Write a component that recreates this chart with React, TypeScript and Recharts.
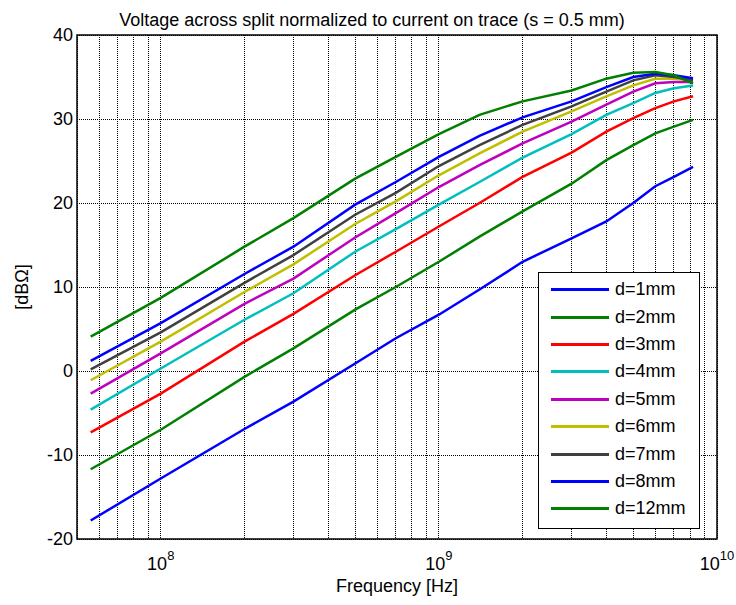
import React from 'react';
import { LineChart, Line, XAxis, YAxis, CartesianGrid, Legend, ReferenceArea } from 'recharts';

const freqs = [5.6e7, 1e8, 2e8, 3e8, 5e8, 7e8, 1e9, 1.4e9, 2e9, 3e9, 4e9, 5e9, 6e9, 7e9, 8.2e9];

const d1 = [-17.8, -12.8, -6.9, -3.65, 0.9, 3.9, 6.7, 9.7, 13.0, 15.8, 17.8, 20.0, 22.0, 23.1, 24.3];
const d2 = [-11.7, -7.0, -0.7, 2.7, 7.3, 10.0, 13.0, 16.0, 19.0, 22.3, 25.1, 26.9, 28.3, 29.1, 29.9];
const d3 = [-7.3, -2.7, 3.5, 6.8, 11.4, 14.2, 17.2, 20.0, 23.1, 26.0, 28.5, 30.1, 31.3, 32.1, 32.7];
const d4 = [-4.6, 0.3, 6.1, 9.25, 14.2, 16.9, 19.8, 22.5, 25.4, 28.2, 30.5, 31.9, 33.1, 33.65, 34.0];
const d5 = [-2.7, 2.1, 8.0, 11.0, 15.9, 18.8, 21.9, 24.5, 27.1, 29.7, 31.7, 33.25, 34.25, 34.4, 34.4];
const d6 = [-1.1, 3.5, 9.4, 12.7, 17.5, 20.2, 23.3, 25.9, 28.5, 30.9, 32.7, 34.0, 34.8, 34.8, 34.6];
const d7 = [0.2, 4.6, 10.5, 13.8, 18.6, 21.2, 24.4, 26.9, 29.3, 31.5, 33.25, 34.6, 35.2, 35.0, 34.6];
const d8 = [1.2, 5.7, 11.55, 14.8, 19.8, 22.5, 25.5, 28.0, 30.2, 32.1, 33.8, 35.0, 35.4, 35.2, 34.85];
const d12 = [4.1, 8.7, 14.8, 18.2, 22.9, 25.5, 28.2, 30.5, 32.1, 33.4, 34.8, 35.5, 35.6, 35.2, 34.25];

const seriesNames = ['d=1mm', 'd=2mm', 'd=3mm', 'd=4mm', 'd=5mm', 'd=6mm', 'd=7mm', 'd=8mm', 'd=12mm'];
const seriesValues = [d1, d2, d3, d4, d5, d6, d7, d8, d12];
const colors = ['#0000ff', '#008000', '#ff0000', '#00bfbf', '#bf00bf', '#bfbf00', '#404040', '#0000ff', '#008000'];

const xTicks = [
  5e7, 6e7, 7e7, 8e7, 9e7,
  1e8, 2e8, 3e8, 4e8, 5e8, 6e8, 7e8, 8e8, 9e8,
  1e9, 2e9, 3e9, 4e9, 5e9, 6e9, 7e9, 8e9, 9e9,
  1e10,
];
const yTicks = [-20, -10, 0, 10, 20, 30, 40];

const data = freqs.map((f, i) => {
  const row: Record<string, number> = { f };
  seriesNames.forEach((name, k) => {
    row[name] = seriesValues[k][i];
  });
  return row;
});

const FONT = 'Liberation Sans, Arial, Helvetica, sans-serif';

const XTick = (props: any) => {
  const { x, y, payload } = props;
  const e = Math.round(Math.log10(payload.value));
  if (Math.abs(payload.value - Math.pow(10, e)) > 1 || e < 8) return <g />;
  return (
    <text x={x} y={y + 31} textAnchor="middle" fontSize={18} fill="#000" fontFamily={FONT}>
      <tspan>10</tspan>
      <tspan dy={-10} fontSize={13}>{e}</tspan>
    </text>
  );
};

const YTick = (props: any) => {
  const { x, y, payload } = props;
  return (
    <text x={x - 4} y={y + 6} textAnchor="end" fontSize={18} fill="#000" fontFamily={FONT}>
      {payload.value}
    </text>
  );
};

const LegendBox = () => (
  <div
    style={{
      width: 160,
      height: 252,
      border: '1.5px solid #000',
      background: '#fff',
      paddingTop: 3,
      boxSizing: 'content-box',
      fontFamily: FONT,
      fontSize: 18,
    }}
  >
    {seriesNames.map((name, i) => (
      <div key={name} style={{ height: 27.4, display: 'flex', alignItems: 'center' }}>
        <div style={{ marginLeft: 12, width: 58, height: 3, background: colors[i] }} />
        <span style={{ marginLeft: 6, color: '#000' }}>{name}</span>
      </div>
    ))}
  </div>
);

export default function App() {
  return (
    <div style={{ position: 'absolute', left: 0, top: 0, width: 736, height: 605, background: '#fff' }}>
      <div
        style={{
          position: 'absolute',
          left: 52,
          width: 640,
          top: 10,
          lineHeight: '20px',
          textAlign: 'center',
          fontFamily: FONT,
          fontSize: 18,
          color: '#000',
        }}
      >
        Voltage across split normalized to current on trace (s = 0.5 mm)
      </div>
      <LineChart width={736} height={605} data={data} margin={{ top: 35, right: 19, bottom: 0, left: 0 }}>
        <CartesianGrid stroke="#000" strokeDasharray="1 1" strokeWidth={1} shapeRendering="crispEdges" />
        <XAxis
          dataKey="f"
          type="number"
          scale="log"
          domain={[5e7, 1e10]}
          ticks={xTicks}
          allowDataOverflow
          height={66}
          tickLine={false}
          axisLine={false}
          tickSize={0}
          tickMargin={0}
          interval={0}
          tick={<XTick />}
          label={{
            content: (p: any) => {
              const vb = p.viewBox;
              return (
                <text x={vb.x + vb.width / 2} y={vb.y + 53} textAnchor="middle" fontSize={18} fontFamily={FONT} fill="#000">
                  Frequency [Hz]
                </text>
              );
            },
          }}
        />
        <YAxis
          type="number"
          domain={[-20, 40]}
          ticks={yTicks}
          width={77}
          tickLine={false}
          axisLine={false}
          tickSize={0}
          tickMargin={0}
          interval={0}
          tick={<YTick />}
          label={{
            content: () => (
              <text
                x={28}
                y={287}
                transform="rotate(-90 28 287)"
                textAnchor="middle"
                fontSize={18}
                fontFamily={FONT}
                fill="#000"
              >
                [dBΩ]
              </text>
            ),
          }}
        />
        <ReferenceArea x1={5e7} x2={1e10} y1={-20} y2={40} fill="none" stroke="#000" strokeWidth={1.5} ifOverflow="visible" />
        {seriesNames.map((name, i) => (
          <Line
            key={name}
            dataKey={name}
            stroke={colors[i]}
            strokeWidth={2.5}
            dot={false}
            type="linear"
            isAnimationActive={false}
          />
        ))}
        <Legend
          layout="horizontal"
          verticalAlign="middle"
          align="center"
          wrapperStyle={{ position: 'absolute', left: 538, top: 272, width: 162 }}
          content={<LegendBox />}
        />
      </LineChart>
    </div>
  );
}
